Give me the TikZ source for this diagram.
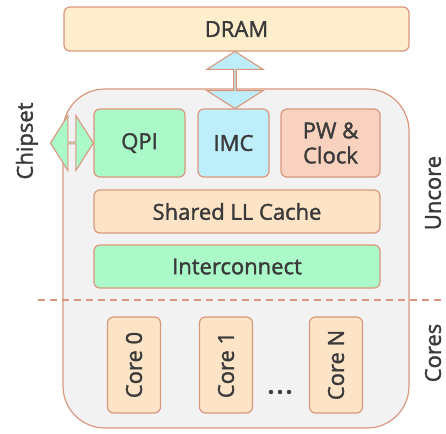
\documentclass[tikz,border=0pt]{standalone}
\usepackage{fontspec}
\setmainfont{Open Sans}
\newfontfamily\lblfont{Open Sans}[FakeBold=1.6]
\usetikzlibrary{shapes.arrows,calc}

\definecolor{edgecol}{HTML}{D9977D}
\definecolor{chipgray}{HTML}{F2F2F2}
\definecolor{dramyellow}{HTML}{FEEECC}
\definecolor{qpigreen}{HTML}{ABF9C9}
\definecolor{imcblue}{HTML}{BDEEFA}
\definecolor{pwpeach}{HTML}{F9D2BF}
\definecolor{cacheorange}{HTML}{FDE4C6}
\definecolor{txtgray}{HTML}{3A3A3A}

\begin{document}
\begin{tikzpicture}[x=1pt, y=-1pt,
    every node/.style = {font=\lblfont\fontsize{22}{26}\selectfont, text=txtgray},
    unit/.style = {draw=edgecol, line width=1.2pt, rounded corners=6pt, inner sep=0pt, align=center},
    corebox/.style = {unit, fill=cacheorange, minimum width=96pt, minimum height=53pt},
    fatarrow/.style = {shape=double arrow, draw=edgecol, line width=1.1pt, inner sep=0pt,
                       double arrow tip angle=115, double arrow head indent=0pt}]
    \useasboundingbox (0,0) rectangle (446,433);

    % chip outline
    \node[draw=edgecol, line width=1.2pt, fill=chipgray, rounded corners=42pt,
          minimum width=346pt, minimum height=339pt] (chip) at (236,258.5) {};

    % memory and uncore parts
    \node[unit, fill=dramyellow, minimum width=345pt, minimum height=44pt] (dram) at (236.5,29) {DRAM};
    \node[unit, fill=qpigreen, minimum width=91pt, minimum height=68pt] (qpi) at (139.5,143) {QPI};
    \node[unit, fill=imcblue, minimum width=71pt, minimum height=68pt] (imc) at (233.5,143) {IMC};
    \node[unit, fill=pwpeach, minimum width=99pt, minimum height=68pt] (pw) at (330.5,143) {PW \&\\[-1pt]Clock};
    \node[unit, fill=cacheorange, minimum width=286pt, minimum height=43pt] (cache) at (237,211.5) {Shared LL Cache};
    \node[unit, fill=qpigreen, minimum width=286pt, minimum height=43pt] (inter) at (237,266.5) {Interconnect};

    % links
    \node[fatarrow, fill=imcblue, rotate=90, minimum height=57pt, minimum width=56pt,
          double arrow head extend=12pt] (memlink) at ($(dram.south)!0.5!(imc.north)$) {};
    \node[fatarrow, fill=qpigreen, minimum height=43pt, minimum width=55pt,
          double arrow head extend=17pt] (qpilink) at ($(qpi.west)+(-21.5,0)$) {};

    % uncore / cores split
    \coordinate (splitL) at (38,300);
    \coordinate (splitR) at (446,300);
    \draw[edgecol, line width=1.2pt, dash pattern=on 7pt off 5pt] (splitL) -- (splitR);

    % cores
    \node[corebox, rotate=90] (core0) at (134,365) {Core 0};
    \node[corebox, rotate=90] (core1) at (226,365) {Core 1};
    \node[corebox, rotate=90] (coreN) at (336,365) {Core N};
    \foreach \dx in {-9,0,9}
        \fill[txtgray] (280+\dx,392) circle (2.2pt);

    % side labels
    \node[rotate=90] (chipset) at (27,141) {Chipset};
    \node[rotate=90] (uncore) at (433,193) {Uncore};
    \node[rotate=90] (cores) at (433,353) {Cores};

\end{tikzpicture}
\end{document}
